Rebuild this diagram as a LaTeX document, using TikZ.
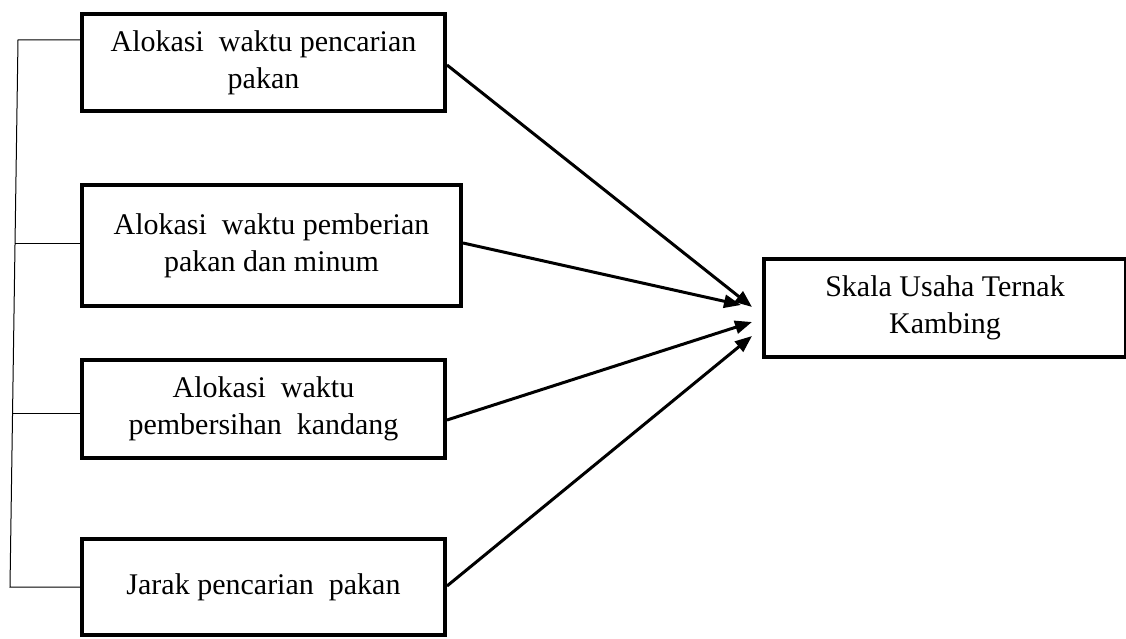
\documentclass[tikz,border=0pt]{standalone}
\usepackage{fontspec}
\setmainfont{Liberation Serif}
\usetikzlibrary{arrows.meta,calc}
\begin{document}
\begin{tikzpicture}[x=1pt,y=-1pt,
  box/.style={draw,line width=4pt,align=center,inner sep=0pt,
    font=\fontsize{30}{37}\selectfont},
  conn/.style={line width=3pt,-{Triangle[length=17pt,width=13pt]}},
  bracket/.style={line width=1pt}]
\useasboundingbox (0,0) rectangle (1126,639);
\node[box,minimum width=363pt,minimum height=97pt] (b1) at (263.5,62.5)
  {Alokasi\ \ waktu pencarian\\pakan};
\node[box,minimum width=379pt,minimum height=121pt] (b2) at (271.5,245.5)
  {Alokasi\ \ waktu pemberian\\pakan dan minum};
\node[box,minimum width=363pt,minimum height=98pt] (b3) at (263.5,409)
  {Alokasi\ \ waktu\\pembersihan\ \ kandang};
\node[box,minimum width=363pt,minimum height=96pt] (b4) at (263.5,587)
  {\raisebox{-7pt}{Jarak pencarian\ \ pakan}};
\node[box,minimum width=362pt,minimum height=98pt] (b5) at (945,308)
  {\raisebox{-6pt}{\begin{tabular}{@{}c@{}}Skala Usaha Ternak\\Kambing\end{tabular}}};
% arrow tips
\coordinate (t1) at (752,307);
\coordinate (t2) at (741,305);
\coordinate (t3) at (752,322);
\coordinate (t4) at (752,336);
\draw[conn] ([yshift=-2.5pt]b1.east) -- (t1);
\draw[conn] ([yshift=2.5pt]b2.east) -- (t2);
\draw[conn] ([yshift=-11pt]b3.east) -- (t3);
\draw[conn] ([yshift=1pt]b4.east) -- (t4);
% left bracket
\coordinate (ltop) at (18,40);
\coordinate (lbot) at (10,587);
\coordinate (l2) at (15,243);
\coordinate (l3) at (12.6,413);
\draw[bracket] ([yshift=22.5pt]b1.west) -- (ltop) -- (lbot) -- (b4.west);
\draw[bracket] ([yshift=2.5pt]b2.west) -- (l2);
\draw[bracket] ([yshift=-4pt]b3.west) -- (l3);
\end{tikzpicture}
\end{document}
